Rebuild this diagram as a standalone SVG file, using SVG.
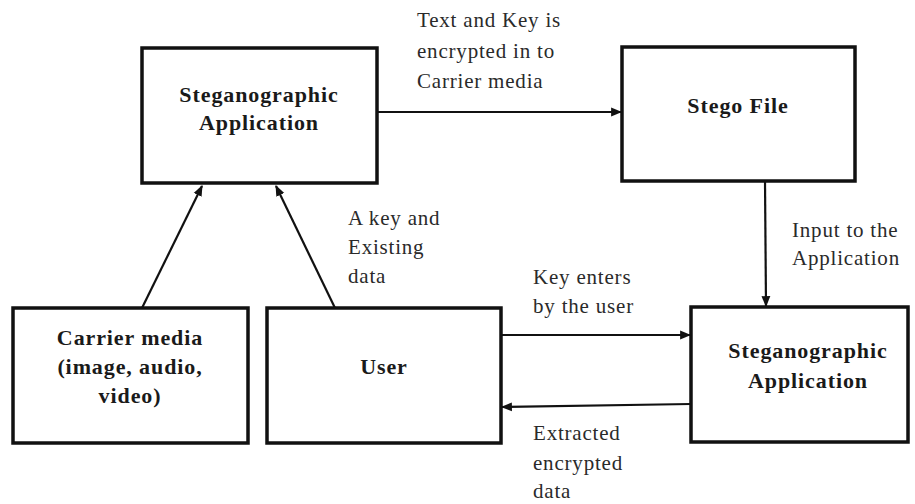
<svg xmlns="http://www.w3.org/2000/svg" width="915" height="504" viewBox="0 0 915 504">
<style>
.box{fill:#fff;stroke:#111;stroke-width:3.5}
.bt{font-family:"Liberation Serif",serif;font-weight:bold;font-size:22px;fill:#1a1a1a;text-anchor:middle;letter-spacing:0.9px}
.lt{font-family:"Liberation Serif",serif;font-size:21px;fill:#2a2a2a;letter-spacing:0.8px}
.ln{stroke:#111;stroke-width:2.2;fill:none;marker-end:url(#ah)}
</style>
<defs>
<marker id="ah" viewBox="0 0 10 10" refX="9" refY="5" markerWidth="5" markerHeight="5" orient="auto" markerUnits="strokeWidth">
<path d="M0,1 L10,5 L0,9 z" fill="#111"/>
</marker>
</defs>
<rect width="915" height="504" fill="#fff"/>
<g id="connectors">
<line class="ln" x1="377" y1="112" x2="621" y2="112"/>
<line class="ln" x1="142" y1="308" x2="202" y2="186"/>
<line class="ln" x1="335" y1="308" x2="276" y2="186"/>
<line class="ln" x1="765" y1="181" x2="766" y2="306"/>
<line class="ln" x1="501" y1="335" x2="690" y2="335"/>
<line class="ln" x1="691" y1="404" x2="502" y2="407"/>
</g>
<g id="app1">
<rect class="box" x="142" y="48" width="235" height="135"/>
<text class="bt" x="259" y="102">Steganographic</text>
<text class="bt" x="259" y="130">Application</text>
</g>
<g id="stego">
<rect class="box" x="622" y="47" width="233" height="134"/>
<text class="bt" x="738" y="113">Stego File</text>
</g>
<g id="carrier">
<rect class="box" x="13" y="308" width="235" height="135"/>
<text class="bt" x="130" y="345">Carrier media</text>
<text class="bt" x="130" y="374">(image, audio,</text>
<text class="bt" x="130" y="403">video)</text>
</g>
<g id="user">
<rect class="box" x="267" y="308" width="234" height="135"/>
<text class="bt" x="384" y="374">User</text>
</g>
<g id="app2">
<rect class="box" x="691" y="307" width="217" height="135"/>
<text class="bt" x="808" y="358">Steganographic</text>
<text class="bt" x="808" y="388">Application</text>
</g>
<g id="labels">
<text class="lt" x="417" y="27">Text and Key is</text>
<text class="lt" x="417" y="58">encrypted in to</text>
<text class="lt" x="417" y="88">Carrier media</text>
<text class="lt" x="348" y="225">A key and</text>
<text class="lt" x="348" y="254">Existing</text>
<text class="lt" x="348" y="283">data</text>
<text class="lt" x="792" y="237">Input to the</text>
<text class="lt" x="792" y="265">Application</text>
<text class="lt" x="533" y="284">Key enters</text>
<text class="lt" x="533" y="313">by the user</text>
<text class="lt" x="533" y="440">Extracted</text>
<text class="lt" x="533" y="470">encrypted</text>
<text class="lt" x="533" y="498">data</text>
</g>
</svg>
